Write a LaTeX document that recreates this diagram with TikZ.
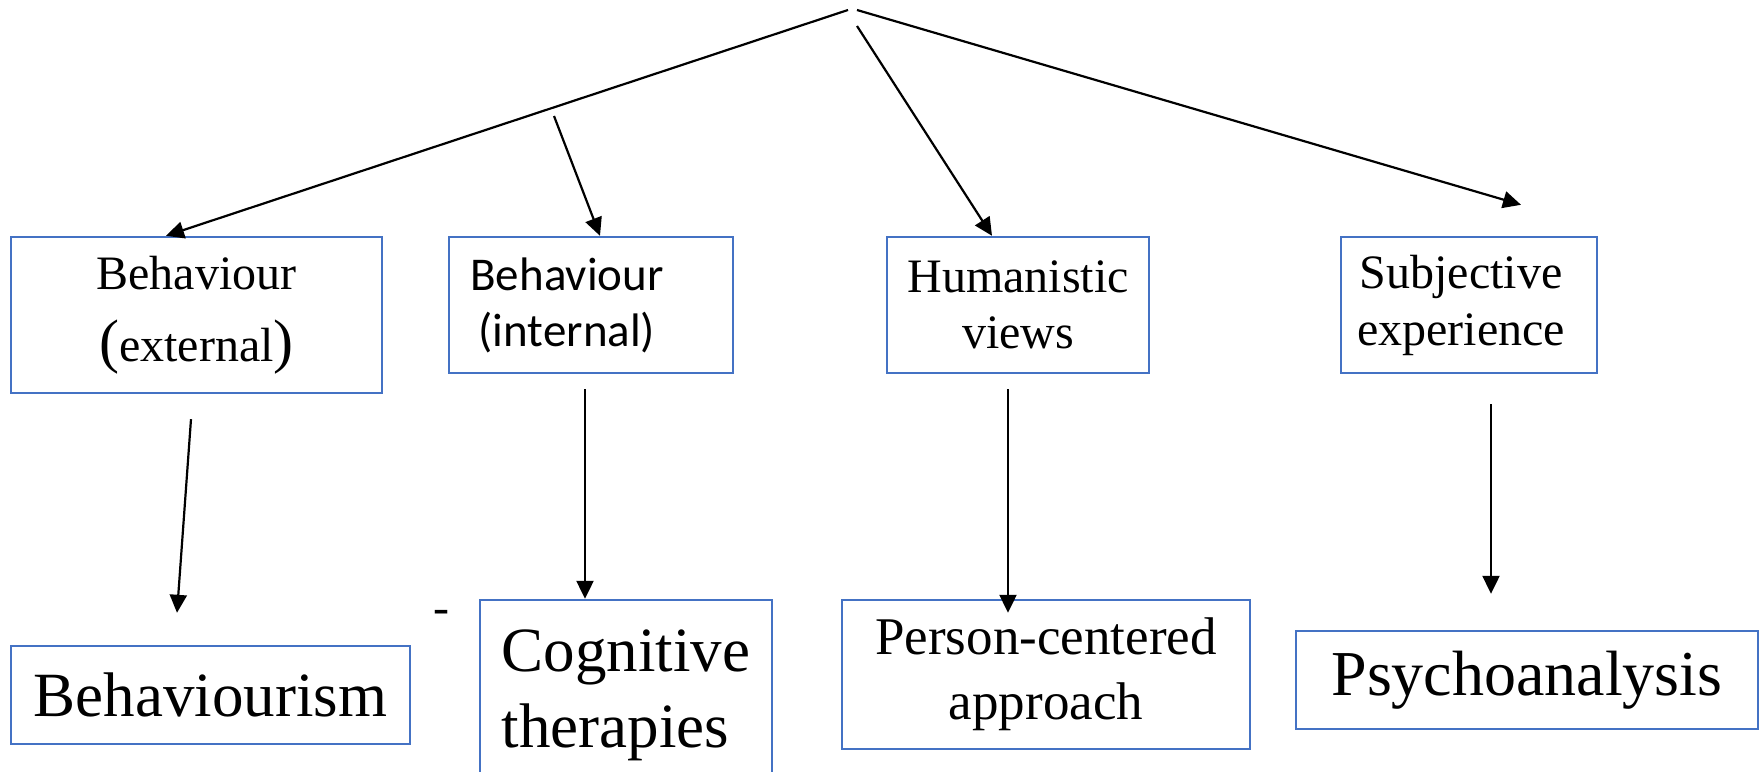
\documentclass[tikz,border=0pt]{standalone}
\usepackage{fontspec}
\usepackage{tikz}
\usetikzlibrary{arrows.meta}
\setmainfont{Liberation Serif}
\newfontfamily\calibri{Carlito}
\definecolor{bx}{RGB}{68, 114, 196}

\begin{document}
\begin{tikzpicture}[scale=0.5,
  box/.style={rectangle, draw=bx, line width=1.2pt, inner sep=0pt, align=center},
  arr/.style={line width=1.1pt, color=black, -{Triangle[length=9pt,width=8.5pt]}}]
\useasboundingbox (0pt, 0pt) rectangle (1761pt, -771pt);
\coordinate (apexL) at (848.0pt, -10.0pt);
\coordinate (apexR) at (857.0pt, -10.0pt);
\coordinate (apexM) at (857.0pt, -26.0pt);
\coordinate (midL) at (554.0pt, -116.0pt);
\node (ext) [box, minimum width=185.5pt, minimum height=78pt, font=\fontsize{24}{36}\selectfont] at (196.5pt, -315.0pt)
  {Behaviour\\{\fontsize{30}{30}\selectfont(}external{\fontsize{30}{30}\selectfont)}};
\node (int) [box, minimum width=142pt, minimum height=68pt, font=\calibri\fontsize{23.5}{28}\selectfont] at (591.0pt, -305.0pt)
  {Behaviour\hspace*{24pt}\\(internal)\hspace*{24pt}};
\node (hum) [box, minimum width=131pt, minimum height=68pt, font=\fontsize{24}{28}\selectfont] at (1018.0pt, -305.0pt)
  {Humanistic\\views};
\node (subj) [box, minimum width=128pt, minimum height=68pt, font=\fontsize{24}{28.5}\selectfont] at (1469.0pt, -305.0pt)
  {Subjective\hspace*{8pt}\\experience\hspace*{8pt}};
\node (behm) [box, minimum width=199.5pt, minimum height=49pt, font=\fontsize{31.5}{38}\selectfont] at (210.5pt, -695.0pt)
  {Behaviourism};
\node (cog) [box, minimum width=146pt, minimum height=95pt, align=left, font=\fontsize{31.5}{38}\selectfont] at (626.0pt, -695.0pt)
  {Cognitive\\therapies};
\node (pca) [box, minimum width=204pt, minimum height=74.5pt, font=\fontsize{26.5}{32.5}\selectfont] at (1046.0pt, -674.5pt)
  {Person-centered\\approach};
\node (psy) [box, minimum width=231pt, minimum height=49pt, font=\fontsize{32}{38}\selectfont] at (1527.0pt, -680.0pt)
  {Psychoanalysis};
\node (dash) [inner sep=0pt, font=\fontsize{24}{28}\selectfont] at (441.0pt, -617.0pt) {-};
\draw [arr] (apexL) to ([xshift=-30.5pt]ext.north);
\draw [arr] (midL) to ([xshift=9pt]int.north);
\draw [arr] (apexM) to ([xshift=-26pt]hum.north);
\draw [arr] (apexR) to ([xshift=52pt, yshift=31pt]subj.north);
\draw [arr] ([xshift=-5.5pt, yshift=-25pt]ext.south) to ([xshift=-33.5pt, yshift=32pt]behm.north);
\draw [arr] ([xshift=-6pt, yshift=-15pt]int.south) to ([xshift=-41pt]cog.north);
\draw [arr] ([xshift=-10pt, yshift=-15pt]hum.south) to ([xshift=-38pt, yshift=-14pt]pca.north);
\draw [arr] ([xshift=22pt, yshift=-30pt]subj.south) to ([xshift=-36pt, yshift=36pt]psy.north);
\end{tikzpicture}
\end{document}
